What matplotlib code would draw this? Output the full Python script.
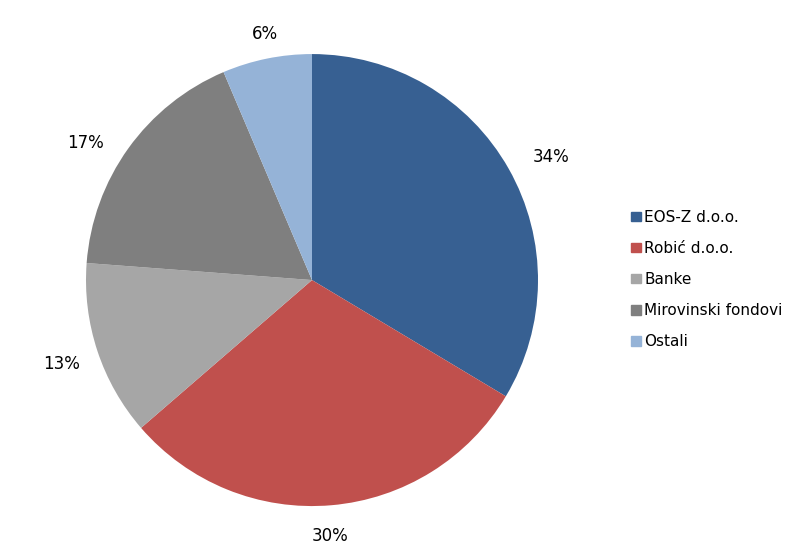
import numpy as np
import matplotlib.pyplot as plt
from matplotlib.patches import Patch

labels = ['EOS-Z d.o.o.', 'Robić d.o.o.', 'Banke', 'Mirovinski fondovi', 'Ostali']
values = [33.6, 30.05, 12.55, 17.4, 6.4]
colors = ['#376092', '#C0504D', '#A6A6A6', '#7F7F7F', '#95B3D7']
label_dist = [1.19, 1.135, 1.17, 1.17, 1.11]
label_shift = [-2.2, -0.9, 0.3, 4.4, -0.7]  # degrees, excel "best fit" nudges

fig = plt.figure(figsize=(8, 5.59), dpi=100)
ax = fig.add_axes([0.39 - 0.2825, 0.499 - 0.4043, 0.565, 0.8086])

wedges, _, pcts = ax.pie(values, colors=colors, startangle=90, counterclock=False,
                         autopct=lambda p: '%d%%' % round(p), pctdistance=1.16,
                         radius=1, textprops={'fontsize': 12, 'color': 'black'},
                         wedgeprops={'linewidth': 0})
# push labels out like excel does
for w, t, d, s in zip(wedges, pcts, label_dist, label_shift):
    th = np.deg2rad((w.theta1 + w.theta2) / 2 + s)
    t.set_position((d * np.cos(th), d * np.sin(th)))

ax.set_xlim(-1, 1)
ax.set_ylim(-1, 1)
ax.set_aspect('equal')

handles = [Patch(color=c) for c in colors]
fig.legend(handles, labels, loc='center left', bbox_to_anchor=(0.772, 0.5),
           frameon=False, fontsize=11, handlelength=0.6, handleheight=0.6,
           handletextpad=0.25, labelspacing=1.05)

fig.savefig('out.png', dpi=100)
